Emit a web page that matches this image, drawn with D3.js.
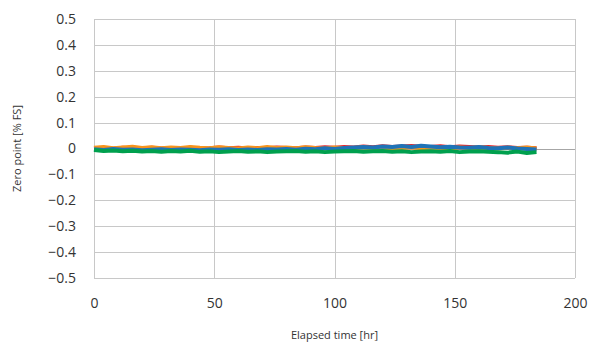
<!DOCTYPE html>
<html>
<head>
<meta charset="utf-8">
<script src="https://cdn.jsdelivr.net/npm/d3@7"></script>
<style>
  body { margin: 0; background: #fff; }
  text { font-family: "Open Sans", "Noto Sans", sans-serif; fill: #333; }
</style>
</head>
<body>
<script>
// sample times (hr)
var times = [0, 4, 8, 12, 16, 20, 24, 28, 32, 36, 40, 44, 48, 52, 56, 60, 64, 68, 72, 76,
  80, 84, 88, 92, 96, 100, 104, 108, 112, 116, 120, 124, 128, 132, 136, 140, 144, 148,
  152, 156, 160, 164, 168, 172, 176, 180, 184]

var redVals = [0.000, 0.002, -0.001, 0.003, 0.000, 0.001, 0.003, 0.000, 0.002, -0.001, 0.003, 0.000,
  0.001, 0.004, 0.001, 0.003, 0.000, 0.002, 0.001, 0.004, 0.002, 0.001, 0.004, 0.002, 0.005, 0.003,
  0.006, 0.004, 0.008, 0.005, 0.009, 0.006, 0.008, 0.010, 0.007, 0.006, 0.009, 0.005, 0.008, 0.006,
  0.004, 0.006, 0.003, 0.005, 0.002, 0.003, 0.001]

var orangeVals = [0.003, 0.006, 0.001, 0.004, 0.007, 0.002, 0.005, 0.001, 0.004, 0.002, 0.006, 0.003,
  0.001, 0.005, 0.002, 0.000, 0.004, 0.001, 0.006, 0.002, 0.004, 0.001, 0.005, 0.002, 0.000, 0.004,
  0.001, 0.002, 0.005, 0.001, 0.004, 0.000, 0.002, 0.005, 0.001, 0.004, 0.002, 0.000, 0.004, 0.001,
  0.005, 0.002, 0.000, 0.003, 0.001, 0.004, 0.000]

var blueVals = [-0.003, -0.006, -0.002, -0.005, -0.004, -0.007, -0.005, -0.003, -0.006, -0.004, -0.005,
  -0.007, -0.004, -0.005, -0.003, -0.006, -0.004, -0.006, -0.003, -0.004, -0.002, -0.005, -0.001,
  -0.003, 0.001, -0.002, 0.002, 0.004, 0.006, 0.004, 0.008, 0.006, 0.010, 0.006, 0.011, 0.008, 0.005,
  0.007, 0.004, 0.003, 0.006, 0.002, 0.001, 0.004, 0.000, -0.002, -0.004]

var greenVals = [-0.006, -0.010, -0.008, -0.011, -0.009, -0.012, -0.010, -0.013, -0.010, -0.012, -0.009,
  -0.013, -0.011, -0.014, -0.012, -0.010, -0.013, -0.011, -0.014, -0.012, -0.011, -0.010, -0.013,
  -0.011, -0.014, -0.012, -0.011, -0.010, -0.013, -0.011, -0.010, -0.013, -0.011, -0.014, -0.012,
  -0.011, -0.013, -0.010, -0.014, -0.012, -0.011, -0.013, -0.014, -0.016, -0.012, -0.017, -0.014]

var seriesNames = ['red', 'orange', 'blue', 'green']
var seriesColors = ['#e8262b', '#f7941d', '#1f73b7', '#00a04e']
var seriesVals = [redVals, orangeVals, blueVals, greenVals]

var xTicks = [0, 50, 100, 150, 200]
var yTicks = [0.5, 0.4, 0.3, 0.2, 0.1, 0, -0.1, -0.2, -0.3, -0.4, -0.5]

var W = 599, H = 343
var margin = { top: 19, right: 24, bottom: 65, left: 94 }
var width = W - margin.left - margin.right,
  height = H - margin.top - margin.bottom

var x = d3.scaleLinear().domain([0, 200]).range([0, width])
var y = d3.scaleLinear().domain([-0.5, 0.5]).range([height, 0])

var svg = d3.select('body')
  .append('svg')
  .attr('width', W)
  .attr('height', H)

var g = svg.append('g')
  .attr('transform', 'translate(' + margin.left + ',' + margin.top + ')')

// gridlines
g.append('g')
  .selectAll('line')
  .data(yTicks)
  .enter()
  .append('line')
  .attr('x1', 0).attr('x2', width)
  .attr('y1', d => Math.round(y(d)) + 0.5).attr('y2', d => Math.round(y(d)) + 0.5)
  .attr('stroke', d => d === 0 ? '#a6a6a6' : '#c8c8c8')
  .attr('stroke-width', 1)

g.append('g')
  .selectAll('line')
  .data(xTicks)
  .enter()
  .append('line')
  .attr('y1', 0).attr('y2', height)
  .attr('x1', d => Math.round(x(d)) + 0.5).attr('x2', d => Math.round(x(d)) + 0.5)
  .attr('stroke', '#c8c8c8')
  .attr('stroke-width', 1)

// axes (labels only)
var yAxis = g.append('g')
  .call(d3.axisLeft(y).tickValues(yTicks).tickSize(0).tickPadding(18).tickFormat(d => d3.format('')(+d.toFixed(1))))
yAxis.select('.domain').remove()
yAxis.selectAll('text').style('font-size', '14px').style('fill', '#333')

var xAxis = g.append('g')
  .attr('transform', 'translate(0,' + height + ')')
  .call(d3.axisBottom(x).tickValues(xTicks).tickSize(0).tickPadding(20))
xAxis.select('.domain').remove()
xAxis.selectAll('text').style('font-size', '14px').style('fill', '#333')

// series
var line = d3.line()
  .x((d, i) => x(times[i]))
  .y(d => y(d))

seriesVals.forEach(function(vals, i) {
  g.append('path')
    .datum(vals)
    .attr('class', 'series-' + seriesNames[i])
    .attr('fill', 'none')
    .attr('stroke', seriesColors[i])
    .attr('stroke-width', 4)
    .attr('stroke-linejoin', 'round')
    .attr('d', line)
})

// axis titles
svg.append('text')
  .attr('x', margin.left + width * 0.5)
  .attr('y', 339)
  .attr('text-anchor', 'middle')
  .style('font-size', '11px')
  .text('Elapsed time [hr]')

svg.append('text')
  .attr('transform', 'translate(21,' + (margin.top + height / 2) + ') rotate(-90)')
  .attr('text-anchor', 'middle')
  .style('font-size', '11px')
  .text('Zero point [% FS]')
</script>
</body>
</html>
